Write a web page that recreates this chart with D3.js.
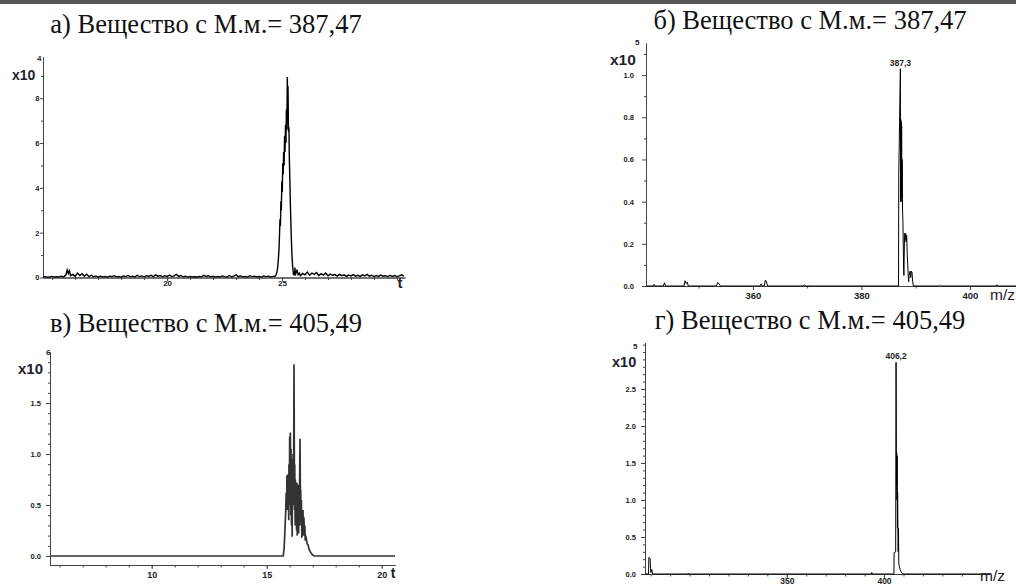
<!DOCTYPE html>
<html>
<head>
<meta charset="utf-8">
<script src="https://cdn.jsdelivr.net/npm/d3@7"></script>
<style>
  html, body { margin: 0; padding: 0; background: #fff; }
  svg { display: block; }
</style>
</head>
<body>
<div id="chart"></div>
<script>
// ---------------- data ----------------

const panelTitles = [
  "а) Вещество с М.м.= 387,47",
  "б) Вещество с М.м.= 387,47",
  "в) Вещество с М.м.= 405,49",
  "г) Вещество с М.м.= 405,49"
];
const exponents = ["4", "5", "6", "5"];
const xAxisNames = ["t", "m/z", "t", "m/z"];

// а) chromatogram: [t, intensity x10^4]
const chromA = [
  [14.6,0.02],[14.7,0.04],[14.8,0.01],[14.9,0.03],[15.0,0.05],[15.1,0.02],[15.2,0.04],[15.3,0.03],[15.4,0.06],[15.5,0.02],
  [15.6,0.12],[15.65,0.33],[15.7,0.18],[15.75,0.3],[15.8,0.08],[15.9,0.14],[16.0,0.05],[16.1,0.2],[16.2,0.09],[16.3,0.17],
  [16.4,0.06],[16.5,0.15],[16.6,0.04],[16.7,0.1],[16.8,0.03],[16.9,0.07],[17.0,0.02],[17.1,0.06],[17.2,0.03],[17.3,0.05],
  [17.4,0.02],[17.5,0.06],[17.6,0.04],[17.7,0.08],[17.8,0.03],[17.9,0.05],[18.0,0.02],[18.1,0.07],[18.2,0.04],[18.3,0.09],
  [18.4,0.03],[18.5,0.06],[18.6,0.02],[18.7,0.1],[18.8,0.04],[18.9,0.07],[19.0,0.03],[19.1,0.08],[19.2,0.05],[19.3,0.1],
  [19.4,0.04],[19.5,0.12],[19.6,0.06],[19.7,0.09],[19.8,0.03],[19.9,0.08],[20.0,0.05],[20.1,0.11],[20.2,0.04],[20.3,0.07],
  [20.4,0.14],[20.5,0.05],[20.6,0.09],[20.7,0.03],[20.8,0.06],[20.9,0.02],[21.0,0.05],[21.1,0.03],[21.2,0.04],[21.3,0.02],
  [21.4,0.05],[21.5,0.03],[21.6,0.1],[21.7,0.05],[21.8,0.08],[21.9,0.03],[22.0,0.06],[22.1,0.02],[22.2,0.05],[22.3,0.03],
  [22.4,0.07],[22.5,0.04],[22.6,0.02],[22.7,0.09],[22.8,0.03],[22.9,0.06],[23.0,0.12],[23.1,0.04],[23.2,0.07],[23.3,0.03],
  [23.4,0.05],[23.5,0.02],[23.6,0.08],[23.7,0.04],[23.8,0.06],[23.9,0.03],[24.0,0.05],[24.1,0.02],[24.2,0.07],[24.3,0.04],
  [24.4,0.06],[24.5,0.03],[24.6,0.05],
  [24.70,0.05],[24.74,0.12],[24.78,0.25],[24.81,0.45],[24.84,0.8],[24.87,1.3],[24.89,1.9],[24.91,2.6],[24.93,2.3],[24.95,3.4],
  [24.97,3.0],[24.99,4.3],[25.01,3.8],[25.03,5.1],[25.05,4.6],[25.07,5.6],[25.09,5.0],[25.11,6.3],[25.13,5.6],[25.15,6.8],
  [25.17,6.0],[25.19,7.5],[25.21,6.6],[25.23,8.95],[25.25,7.2],[25.26,8.55],[25.28,6.5],[25.30,6.7],[25.32,5.2],[25.34,4.4],
  [25.36,3.4],[25.38,2.6],[25.40,1.9],[25.42,1.3],[25.44,0.85],[25.46,0.5],[25.48,0.3],[25.50,0.12],[25.52,0.2],[25.54,0.08],
  [25.56,0.44],[25.58,0.1],
  [25.65,0.35],[25.7,0.12],[25.75,0.2],[25.8,0.08],[25.9,0.18],[26.0,0.12],[26.1,0.24],[26.2,0.1],[26.3,0.2],[26.4,0.14],
  [26.5,0.22],[26.6,0.09],[26.7,0.17],[26.8,0.11],[26.9,0.2],[27.0,0.08],[27.1,0.15],[27.2,0.1],[27.3,0.13],[27.4,0.06],
  [27.5,0.14],[27.6,0.08],[27.7,0.12],[27.8,0.05],[27.9,0.11],[28.0,0.07],[28.1,0.13],[28.2,0.06],[28.3,0.1],[28.4,0.05],
  [28.5,0.12],[28.6,0.07],[28.7,0.14],[28.8,0.06],[28.9,0.1],[29.0,0.04],[29.1,0.09],[29.2,0.05],[29.3,0.11],[29.4,0.06],
  [29.5,0.08],[29.6,0.04],[29.7,0.1],[29.8,0.05],[29.9,0.09],[30.0,0.04],[30.1,0.07],[30.2,0.12],[30.3,0.06]
];

// б) mass spectrum: [m/z, intensity x10^5]
const specB = [
  [340.3,0],[341.6,0],[341.8,0.008],[342.0,0],[343.5,0],[343.7,0.015],[343.9,0],[347.3,0],[347.5,0.025],[347.7,0.012],
  [347.9,0.018],[348.1,0],[353.3,0],[353.5,0.016],[353.8,0.01],[354.0,0],[361.3,0],[361.5,0.01],[361.7,0],[362.1,0],
  [362.3,0.028],[362.5,0.02],[362.7,0],[369.3,0],[369.5,0.006],[369.7,0],
  [386.85,0],[386.89,0.53],[387.19,1.03],[387.22,0.40],[387.26,0.79],[387.30,0.42],[387.34,0.78],[387.38,0.45],[387.42,0.76],
  [387.47,0.40],[387.52,0.60],[387.58,0.37],[387.66,0.30],[387.78,0.09],[387.84,0.05],[387.93,0.20],[388.00,0.25],[388.08,0.22],
  [388.16,0.25],[388.24,0.21],[388.35,0.24],[388.45,0.15],[388.55,0.10],[388.65,0.04],[388.72,0.02],[388.8,0.05],[388.97,0.07],
  [389.1,0.04],[389.2,0.07],[389.33,0.065],[389.45,0.02],[389.6,0],
  [394.2,0],[394.4,0.004],[394.6,0],[404.8,0],[405.0,0.006],[405.2,0],[408.5,0]
];

// в) chromatogram: [t, intensity x10^6]
const chromC = [
  [5.58,0],[15.72,0],[15.76,0.08],[15.80,0.28],[15.83,0.45],[15.85,0.62],[15.87,0.5],[15.88,0.79],[15.90,0.45],[15.91,0.8],
  [15.93,0.52],[15.94,0.78],[15.96,0.35],[15.97,0.9],[15.99,0.5],[16.00,1.17],[16.02,0.6],[16.03,1.21],[16.05,0.4],[16.06,1.05],
  [16.08,0.3],[16.09,0.95],[16.11,0.19],[16.12,0.85],[16.14,0.5],[16.15,1.0],[16.17,0.6],[16.19,1.88],[16.21,0.45],[16.22,0.9],
  [16.24,0.3],[16.25,0.75],[16.27,0.4],[16.28,0.68],[16.30,0.25],[16.31,0.72],[16.33,0.2],[16.34,0.65],[16.36,0.35],[16.37,0.7],
  [16.39,0.22],[16.40,0.66],[16.42,0.3],[16.43,0.62],[16.45,1.15],[16.47,0.5],[16.48,0.65],[16.50,0.3],[16.51,0.55],[16.53,0.18],
  [16.55,0.42],[16.57,0.25],[16.58,0.45],[16.60,0.2],[16.62,0.38],[16.64,0.22],[16.66,0.3],[16.68,0.15],[16.70,0.2],[16.73,0.16],
  [16.76,0.12],[16.80,0.11],[16.84,0.07],[16.88,0.05],[16.93,0.03],[17.00,0.01],[17.08,0],[20.58,0]
];

// г) mass spectrum: [m/z, intensity x10^5]
const specD = [
  [277.1,0],[278.9,0],[279.1,0.225],[279.7,0.21],[280.1,0.02],[280.6,0.06],[281.0,0],
  [299.0,0],[299.3,0.012],[299.6,0],[378.6,0],[378.9,0.008],[379.2,0],[393.4,0],[393.7,0.02],[394.0,0],
  [405.1,0],[405.2,0.29],[406.0,0.3],[406.2,2.86],[406.4,1.2],[406.5,1.64],[406.65,1.0],[406.75,1.6],[406.9,0.62],[407.0,1.1],
  [407.15,0.62],[407.3,0.3],[407.45,0.62],[407.6,0.15],[407.9,0.1],[408.3,0.06],[408.8,0.03],[409.5,0],[454.5,0]
];

// labelled peaks: [x, y, text]
const peakLabelsB = [[387.19, 1.03, "387,3"]];
const peakLabelsD = [[406.2, 2.86, "406,2"]];

// tick values
const aXTicks = [20, 25];
const aYTicks = [0, 2, 4, 6, 8];
const bXTicks = [360, 380, 400];
const bYTicks = [0, 0.2, 0.4, 0.6, 0.8, 1.0];
const cXTicks = [10, 15, 20];
const cYTicks = [0, 0.5, 1.0, 1.5];
const dXTicks = [350, 400];
const dYTicks = [0, 0.5, 1.0, 1.5, 2.0, 2.5];

// ---------------- drawing ----------------

const width = 1016, height = 585;
const sansFont = "Liberation Sans, Arial, sans-serif";
const serifFont = "Liberation Serif, Times New Roman, serif";

const svg = d3.select("#chart")
  .append("svg")
    .attr("width", width)
    .attr("height", height);

// dark strip along the top edge
svg.append("rect").attr("width", width).attr("height", 4).attr("fill", "#575757");

const panels = [
  { data: chromA, title: panelTitles[0], titleX: 206, titleY: 33,
    xDomain: [14.6, 30.35], xRange: [43, 405], yDomain: [0, 9.84], yRange: [277.5, 57],
    xTicks: aXTicks, xMinor: d3.range(15, 31, 1), yTicks: aYTicks, yMinor: d3.range(1, 10, 2),
    yFormat: d3.format("d"), xFont: 8, yFont: 7.5, xTick: 4, xPad: -1, yTick: 3, yPad: 0.5,
    x10: [12, 80, 14], exp: [exponents[0], 37, 61],
    name: [xAxisNames[0], 400, 288, 15, "bold", "middle"], lineWidth: 1.4, color: "#000", peaks: [] },
  { data: specB, title: panelTitles[1], titleX: 810, titleY: 29,
    xDomain: [340.3, 408.5], xRange: [646, 1016], yDomain: [0, 1.152], yRange: [286, 43],
    xTicks: bXTicks, xMinor: [350, 370, 390], yTicks: bYTicks, yMinor: d3.range(0.1, 1.15, 0.2),
    yFormat: d3.format(".1f"), xFont: 9.5, yFont: 7.5, xTick: 4, xPad: 2, yTick: 4, yPad: 8,
    x10: [610, 65, 15.5], exp: [exponents[1], 635, 45],
    name: [xAxisNames[1], 990, 300, 15.5, "normal", "start"], lineWidth: 1, color: "#000", peaks: peakLabelsB },
  { data: chromC, title: panelTitles[2], titleX: 206, titleY: 332,
    xDomain: [5.58, 20.58], xRange: [50, 395], yDomain: [-0.088, 2.0], yRange: [565, 352],
    xTicks: cXTicks, xMinor: d3.range(6, 21, 1), yTicks: cYTicks, yMinor: d3.range(0.1, 2.05, 0.1),
    yFormat: d3.format(".1f"), xFont: 9, yFont: 7.5, xTick: 4, xPad: 2.5, yTick: 4, yPad: 5,
    x10: [18, 374, 15], exp: [exponents[2], 46, 355],
    name: [xAxisNames[2], 393, 578, 14, "bold", "middle"], lineWidth: 1.7, color: "#333", peaks: [] },
  { data: specD, title: panelTitles[3], titleX: 810, titleY: 329,
    xDomain: [277.1, 454.5], xRange: [645, 990], yDomain: [0, 3.126], yRange: [574, 342.7],
    xTicks: dXTicks, xMinor: d3.range(280, 455, 10), yTicks: dYTicks, yMinor: d3.range(0.1, 3.15, 0.1),
    yFormat: d3.format(".1f"), xFont: 8.5, yFont: 7.5, xTick: 4, xPad: 0, yTick: 4, yPad: 5,
    x10: [612, 367, 14.5], exp: [exponents[3], 633, 349],
    name: [xAxisNames[3], 980, 581, 15.5, "normal", "start"], lineWidth: 1, color: "#000", peaks: peakLabelsD }
];

function styleAxis(sel, size) {
  sel.attr("color", "#444")
     .attr("font-family", sansFont)
     .attr("font-weight", "bold")
     .attr("font-size", size);
  sel.selectAll("text").attr("fill", "#222");
}

function drawPanel(p) {
  const x = d3.scaleLinear().domain(p.xDomain).range(p.xRange);
  const y = d3.scaleLinear().domain(p.yDomain).range(p.yRange);
  const g = svg.append("g");
  const x0 = p.xRange[0], yAxisPos = p.yRange[0];

  // title above the panel
  g.append("text")
    .attr("x", p.titleX).attr("y", p.titleY)
    .attr("text-anchor", "middle")
    .style("font-family", serifFont)
    .attr("font-size", 26.5)
    .attr("fill", "#111")
    .text(p.title);

  // minor ticks (no labels)
  g.append("g")
    .attr("transform", "translate(" + x0 + ",0)")
    .call(d3.axisLeft(y).tickValues(p.yMinor.filter(v => v <= p.yDomain[1])).tickSize(2).tickSizeOuter(0).tickFormat(""))
    .call(s => styleAxis(s, p.yFont));
  g.append("g")
    .attr("transform", "translate(0," + yAxisPos + ")")
    .call(d3.axisBottom(x).tickValues(p.xMinor.filter(v => v >= p.xDomain[0] && v <= p.xDomain[1])).tickSize(2.5).tickSizeOuter(0).tickFormat(""))
    .call(s => styleAxis(s, p.xFont));

  // labelled ticks
  g.append("g")
    .attr("transform", "translate(" + x0 + ",0)")
    .call(d3.axisLeft(y).tickValues(p.yTicks).tickSize(p.yTick).tickPadding(p.yPad).tickSizeOuter(0).tickFormat(p.yFormat))
    .call(s => styleAxis(s, p.yFont));
  g.append("g")
    .attr("transform", "translate(0," + yAxisPos + ")")
    .call(d3.axisBottom(x).tickValues(p.xTicks).tickSize(p.xTick).tickPadding(p.xPad).tickSizeOuter(0).tickFormat(d3.format("d")))
    .call(s => styleAxis(s, p.xFont));

  // the trace
  const line = d3.line().x(d => x(d[0])).y(d => y(d[1]));
  g.append("path")
    .datum(p.data)
    .attr("d", line)
    .attr("fill", "none")
    .attr("stroke", p.color)
    .attr("stroke-width", p.lineWidth)
    .attr("stroke-linejoin", "miter");

  // peak labels
  g.selectAll(".peak")
    .data(p.peaks)
    .join("text")
      .attr("x", d => x(d[0]))
      .attr("y", d => y(d[1]) - 3)
      .attr("text-anchor", "middle")
      .attr("font-family", sansFont)
      .attr("font-weight", "bold")
      .attr("font-size", 8.5)
      .attr("fill", "#222")
      .text(d => d[2]);

  // intensity multiplier "x10" with its exponent
  g.append("text")
    .attr("x", p.x10[0]).attr("y", p.x10[1])
    .attr("font-family", sansFont).attr("font-weight", "bold")
    .attr("font-size", p.x10[2]).attr("fill", "#1e1e2e")
    .text("x10");
  g.append("text")
    .attr("x", p.exp[1]).attr("y", p.exp[2])
    .attr("font-family", sansFont).attr("font-weight", "bold")
    .attr("font-size", 8).attr("fill", "#1e1e2e")
    .text(p.exp[0]);

  // axis name
  g.append("text")
    .attr("x", p.name[1]).attr("y", p.name[2])
    .attr("text-anchor", p.name[5])
    .attr("font-family", sansFont).attr("font-weight", p.name[4])
    .attr("font-size", p.name[3]).attr("fill", "#222")
    .text(p.name[0]);
}

panels.forEach(drawPanel);
</script>
</body>
</html>
